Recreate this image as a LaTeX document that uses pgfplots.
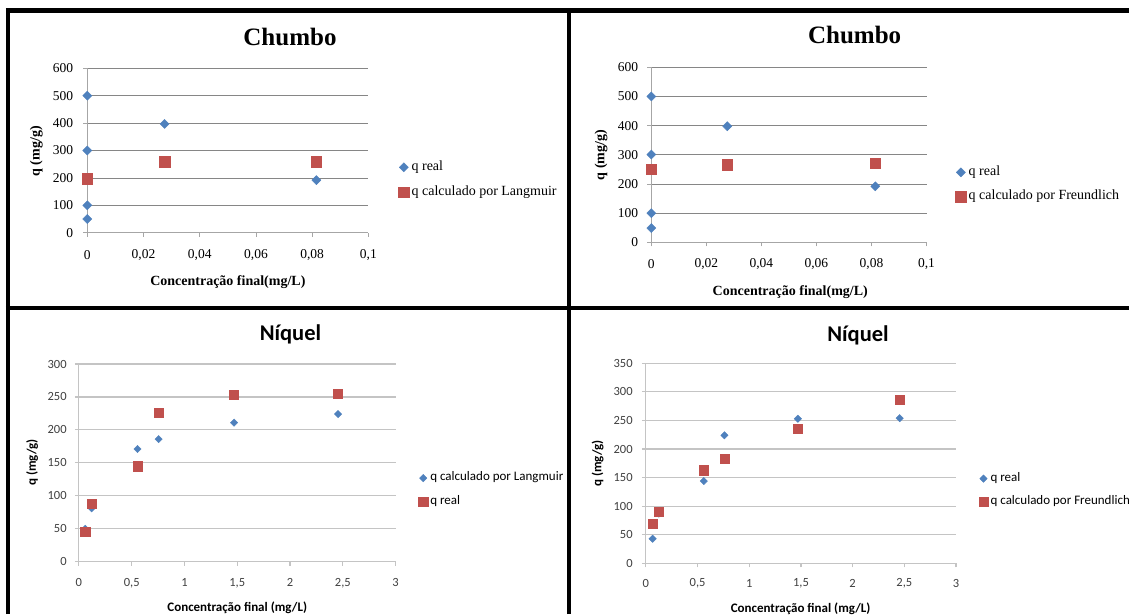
\documentclass[border=0pt]{standalone}
\usepackage{fontspec}
\usepackage{pgfplots}
\pgfplotsset{compat=1.18}
\setmainfont{Liberation Serif}
\newfontfamily\tms{Liberation Serif}
\newfontfamily\calib{Carlito}
\definecolor{xlblue}{HTML}{4F81BD}
\definecolor{xlred}{HTML}{C0504D}
\definecolor{gridA}{HTML}{868686}
\definecolor{axA}{HTML}{A6A6A6}
\definecolor{gridB}{HTML}{C4C4C4}
\definecolor{tickB}{HTML}{404040}
\pgfplotsset{
  common/.style={
    scale only axis, clip=false, axis lines=left,
    ymajorgrids, tick align=outside, major tick length=4pt,
    /pgf/number format/assume math mode=true,
    legend cell align=left,
    legend image code/.code={\draw[##1] plot coordinates {(0pt,0pt)};},
    legend style={draw=none, fill=none, inner sep=0pt, column sep=2.5pt,
      nodes={inner sep=0pt, text height=8.5pt, text depth=3pt}, anchor=west},
    title style={anchor=center, yshift=-6.5pt},
    label style={anchor=center},
  },
  chumbo/.style={common,
    axis line style={-, draw=axA, line width=0.8pt},
    major grid style={draw=gridA, line width=0.8pt},
    tick style={draw=axA, line width=0.8pt},
    xmin=0, xmax=0.1, ymin=0, ymax=600,
    xtick={0,0.02,0.04,0.06,0.08,0.1},
    xticklabels={0,{0,02},{0,04},{0,06},{0,08},{0,1}},
    ytick={0,100,200,300,400,500,600},
    tick label style={font=\tms\fontsize{13.5}{13.5}\selectfont, inner sep=0pt, text=black},
    title={Chumbo}, title style={font=\tms\bfseries\fontsize{25}{25}\selectfont},
    xlabel={Concentração final(mg/L)}, ylabel={q (mg/g)},
    label style={font=\tms\bfseries\fontsize{14}{14}\selectfont},
    legend style={font=\tms\fontsize{14}{14}\selectfont},
  },
  niquel/.style={common,
    axis line style={-, draw=gridB, line width=1.1pt},
    major grid style={draw=gridB, line width=1.1pt},
    tick style={draw=gridB, line width=1.1pt},
    xmin=0, xmax=3, ymin=0,
    xtick={0,0.5,1,1.5,2,2.5,3},
    xticklabels={0,{0,5},1,{1,5},2,{2,5},3},
    tick label style={font=\calib\fontsize{12.5}{12.5}\selectfont, inner sep=0pt, text=tickB},
    title={Níquel}, title style={font=\calib\bfseries\fontsize{22.5}{22.5}\selectfont},
    xlabel={Concentração final (mg/L)}, ylabel={q (mg/g)},
    label style={font=\calib\bfseries\fontsize{13}{13}\selectfont},
    legend style={font=\calib\fontsize{13}{13}\selectfont},
  },
  dia/.style={only marks, mark=square*, mark size=#1, mark options={rotate=45, draw=xlblue, fill=xlblue}},
  sq/.style={only marks, mark=square*, mark size=#1, mark options={draw=xlred, fill=xlred}},
}
\begin{document}
\begin{tikzpicture}
\useasboundingbox (0pt,0pt) rectangle (1129pt,614pt);
\fill[white] (0pt,0pt) rectangle (1129pt,614pt);

% ---- Panel 1: Chumbo / Langmuir
\begin{axis}[chumbo, at={(87.3pt,381.3pt)}, anchor=south west,
  width=281.1pt, height=164.4pt,
  title style={at={(axis description cs:0.721,1.196)}},
  xlabel style={at={(axis description cs:0.5,-0.298)}},
  ylabel style={at={(axis description cs:-0.181,0.495)}},
  legend style={at={(axis description cs:1.1064,0.322)}, row sep=13.5pt},
  xticklabel style={anchor=center, yshift=-18.1pt},
  yticklabel style={anchor=east, xshift=-10pt}]
\addplot[dia=3.2pt] coordinates {(0,500) (0,300) (0,100) (0,50) (0.0275,397) (0.0815,192)};
\addlegendentry{q real}
\addplot[sq=5.3pt] coordinates {(0,197) (0.0275,259) (0.0815,259)};
\addlegendentry{q calculado por Langmuir}
\end{axis}

% ---- Panel 2: Chumbo / Freundlich
\begin{axis}[chumbo, at={(651.3pt,371.7pt)}, anchor=south west,
  width=275.2pt, height=175pt,
  title style={at={(axis description cs:0.739,1.185)}},
  xlabel style={at={(axis description cs:0.505,-0.282)}},
  ylabel style={at={(axis description cs:-0.183,0.499)}},
  legend style={at={(axis description cs:1.105,0.330)}, row sep=12.9pt},
  xticklabel style={anchor=center, yshift=-18.2pt},
  yticklabel style={anchor=east, xshift=-9.1pt}]
\addplot[dia=3.2pt] coordinates {(0,500) (0,301) (0,100) (0,49) (0.0276,398) (0.0814,192)};
\addlegendentry{q real}
\addplot[sq=5.3pt] coordinates {(0,251) (0.0276,266) (0.0814,271)};
\addlegendentry{q calculado por Freundlich}
\end{axis}

% ---- Panel 3: Niquel / Langmuir
\begin{axis}[niquel, at={(78.9pt,52.3pt)}, anchor=south west,
  width=316.7pt, height=197.7pt, ymax=300,
  ytick={0,50,100,150,200,250,300},
  title style={at={(axis description cs:0.668,1.150)}},
  xlabel style={at={(axis description cs:0.5,-0.231)}},
  ylabel style={at={(axis description cs:-0.148,0.502)}},
  legend style={at={(axis description cs:1.072,0.363)}, row sep=12.2pt},
  xticklabel style={anchor=center, yshift=-17.1pt},
  yticklabel style={anchor=east, xshift=-8.1pt}]
\addplot[dia=2.6pt] coordinates {(0.06,50) (0.12,81) (0.555,171) (0.755,186) (1.47,211) (2.455,224)};
\addlegendentry{q calculado por Langmuir}
\addplot[sq=4.6pt] coordinates {(0.06,45) (0.12,88) (0.555,145) (0.755,226) (1.47,254) (2.455,255)};
\addlegendentry{q real}
\end{axis}

% ---- Panel 4: Niquel / Freundlich
\begin{axis}[niquel, at={(645.9pt,50.7pt)}, anchor=south west,
  width=310.1pt, height=200pt, ymax=350,
  ytick={0,50,100,150,200,250,300,350},
  title style={at={(axis description cs:0.684,1.142)}},
  xlabel style={at={(axis description cs:0.499,-0.225)}},
  ylabel style={at={(axis description cs:-0.156,0.5)}},
  legend style={at={(axis description cs:1.0732,0.366)}, row sep=11.5pt},
  xticklabel style={anchor=center, yshift=-15.9pt},
  yticklabel style={anchor=east, xshift=-9.1pt}]
\addplot[dia=2.6pt] coordinates {(0.065,43) (0.125,87) (0.56,144) (0.76,224) (1.47,253) (2.455,254)};
\addlegendentry{q real}
\addplot[sq=4.6pt] coordinates {(0.065,69) (0.125,91) (0.56,163) (0.76,183) (1.47,235) (2.455,287)};
\addlegendentry{q calculado por Freundlich}
\end{axis}

% ---- frame lines
\draw[line width=4.5pt] (5.75pt,603.5pt) -- (1135pt,603.5pt);
\draw[line width=4.5pt] (8pt,0pt) -- (8pt,605.75pt);
\draw[line width=4.5pt] (569pt,0pt) -- (569pt,605.75pt);
\draw[line width=4.5pt] (5.75pt,306pt) -- (1135pt,306pt);
\end{tikzpicture}
\end{document}
